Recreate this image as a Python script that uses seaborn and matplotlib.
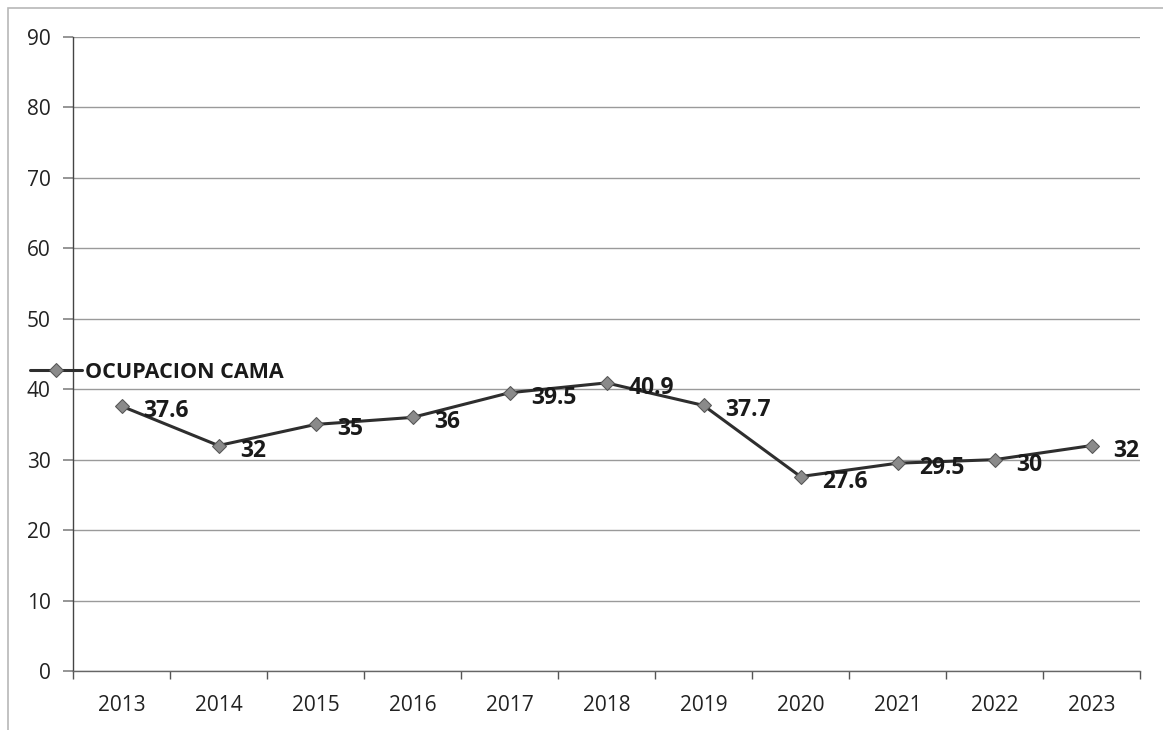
import matplotlib
matplotlib.use("Agg")
import matplotlib.pyplot as plt
import seaborn as sns
import pandas as pd
import numpy as np
from matplotlib.patches import Rectangle

years = ["2013", "2014", "2015", "2016", "2017", "2018", "2019", "2020", "2021", "2022", "2023"]
values = [37.6, 32, 35, 36, 39.5, 40.9, 37.7, 27.6, 29.5, 30, 32]
labels = ["37.6", "32", "35", "36", "39.5", "40.9", "37.7", "27.6", "29.5", "30", "32"]
series_name = "OCUPACION CAMA"
yticks = [0, 10, 20, 30, 40, 50, 60, 70, 80, 90]

sns.set_theme(style="white")
plt.rcParams['font.family'] = ['Open Sans', 'DejaVu Sans']

df = pd.DataFrame({"pos": np.arange(len(years)), "value": values, "serie": series_name})

fig = plt.figure(figsize=(11.63, 7.3), dpi=100)
ax = fig.add_axes([73/1163, 1-671/730, (1140-73)/1163, (671-37)/730])

# outer frame
fig.patches.append(Rectangle((8/1163, -0.05), 1.2, 1-8/730+0.05, transform=fig.transFigure,
                             fill=False, edgecolor="#b8b8b8", linewidth=1.2))

sns.lineplot(data=df, x="pos", y="value", hue="serie", palette=["#2e2e2e"], ax=ax,
             marker="D", markersize=7, markerfacecolor="#8a8a8a", markeredgecolor="#555555",
             linewidth=2.2, legend=True)

for i, (v, t) in enumerate(zip(values, labels)):
    ax.annotate(t, (i, v), xytext=(22, -5), textcoords="offset pixels",
                ha="left", va="center", fontsize=16.5, fontweight="bold", color="#1a1a1a")

ax.set_xlim(-0.5, len(years) - 0.5)
ax.set_ylim(0, 90)
ax.set_yticks(yticks)
ax.set_yticklabels([str(t) for t in yticks], fontsize=15, color="#222222")
ax.set_xticks(np.arange(len(years)))
ax.set_xticklabels(years, fontsize=15, color="#222222")
ax.set_xticks(np.arange(-0.5, len(years), 1.0), minor=True)
ax.tick_params(axis="x", which="major", length=0, pad=17)
ax.tick_params(axis="x", which="minor", length=6, color="#555555", direction="out", bottom=True)
ax.tick_params(axis="y", which="major", length=7, color="#888888", direction="out", left=True, pad=9)
ax.set_xlabel("")
ax.set_ylabel("")

ax.grid(axis="y", color="#9a9a9a", linewidth=1.0)
ax.grid(axis="x", visible=False)
ax.set_axisbelow(True)
for s in ["top", "right"]:
    ax.spines[s].set_visible(False)
ax.spines["left"].set_color("#444444")
ax.spines["left"].set_linewidth(1.0)
ax.spines["bottom"].set_color("#666666")
ax.spines["bottom"].set_linewidth(1.0)

leg = ax.legend(loc="center left", bbox_to_anchor=(30/1163, 1-372/730),
                bbox_transform=fig.transFigure, frameon=False, handlelength=2.4,
                handletextpad=0.15, borderpad=0, borderaxespad=0,
                prop={"weight": "bold", "size": 15.5})
for txt in leg.get_texts():
    txt.set_color("#1a1a1a")

fig.savefig("out.png", dpi=100, facecolor="white")
